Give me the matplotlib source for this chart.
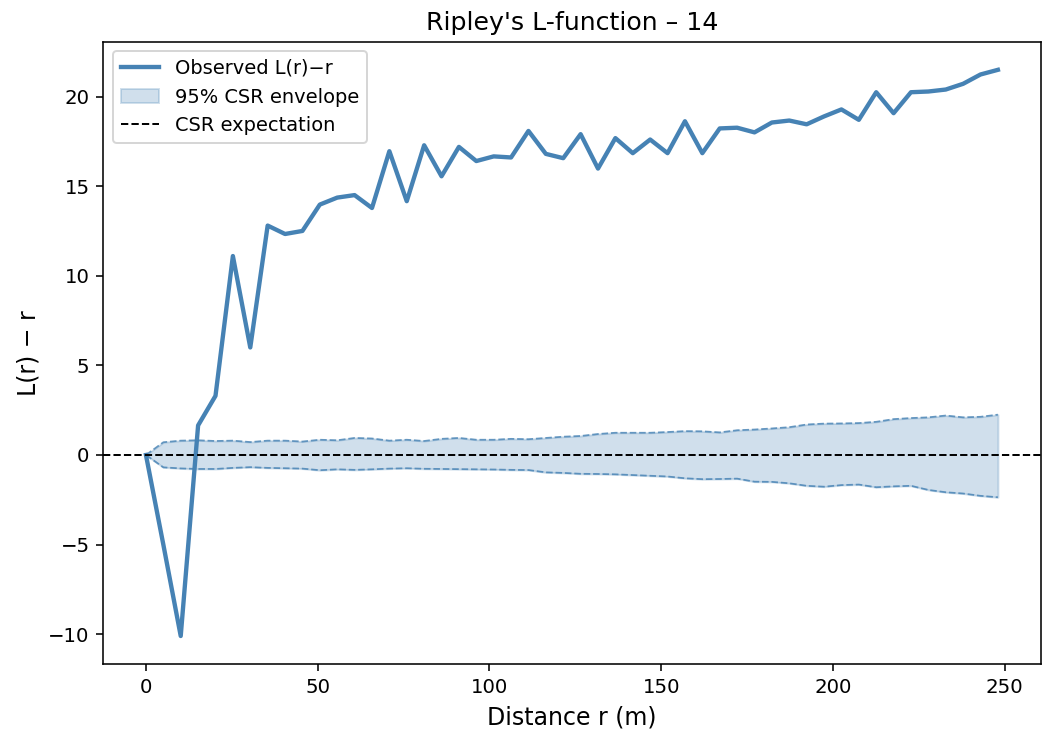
import numpy as np
import matplotlib
matplotlib.use("Agg")
import matplotlib.pyplot as plt

# Distance bins (m)
r = np.linspace(0, 248, 50)

# Observed L(r) - r
observed = [
    0.0, -5.0, -10.1, 1.65, 3.3, 11.1, 6.0, 12.8, 12.33, 12.5,
    13.97, 14.36, 14.5, 13.78, 16.95, 14.16, 17.28, 15.55, 17.19, 16.4,
    16.66, 16.6, 18.08, 16.8, 16.56, 17.9, 15.98, 17.68, 16.84, 17.6,
    16.84, 18.62, 16.84, 18.22, 18.26, 18.0, 18.55, 18.66, 18.45, 18.89,
    19.28, 18.7, 20.24, 19.07, 20.24, 20.28, 20.39, 20.71, 21.23, 21.49,
]

# 95% CSR simulation envelope
env_upper = [
    0.0, 0.71, 0.8, 0.82, 0.78, 0.8, 0.72, 0.8, 0.8, 0.75,
    0.85, 0.82, 0.95, 0.92, 0.8, 0.85, 0.78, 0.9, 0.95, 0.85,
    0.85, 0.9, 0.88, 0.95, 1.02, 1.06, 1.17, 1.24, 1.24, 1.24,
    1.28, 1.33, 1.32, 1.26, 1.38, 1.42, 1.48, 1.55, 1.7, 1.75,
    1.76, 1.78, 1.85, 2.0, 2.06, 2.1, 2.2, 2.1, 2.13, 2.25,
]
env_lower = [
    0.0, -0.69, -0.75, -0.78, -0.78, -0.72, -0.68, -0.72, -0.74, -0.76,
    -0.85, -0.8, -0.83, -0.8, -0.76, -0.74, -0.77, -0.78, -0.79, -0.8,
    -0.81, -0.83, -0.84, -0.97, -1.0, -1.05, -1.06, -1.08, -1.12, -1.16,
    -1.2, -1.3, -1.35, -1.34, -1.32, -1.49, -1.5, -1.58, -1.72, -1.77,
    -1.68, -1.65, -1.8, -1.75, -1.72, -1.95, -2.08, -2.15, -2.28, -2.36,
]

fig = plt.figure(figsize=(1045 / 142, 736 / 142), dpi=142)
ax = fig.add_axes([0.0989, 0.0974, 0.8968, 0.8462])

ax.plot(r, observed, color="steelblue", lw=2.2, label="Observed L(r)\u2212r")
ax.fill_between(r, env_lower, env_upper, color="steelblue", alpha=0.25,
                label="95% CSR envelope")
ax.plot(r, env_upper, color="steelblue", ls="--", lw=0.9, alpha=0.8)
ax.plot(r, env_lower, color="steelblue", ls="--", lw=0.9, alpha=0.8)
ax.axhline(0, color="black", ls="--", lw=1, label="CSR expectation")

ax.set_title("Ripley's L-function \u2013 14", fontsize=12.8)
ax.set_xlabel("Distance r (m)", fontsize=12)
ax.set_ylabel("L(r) \u2212 r", fontsize=12)
ax.legend(loc="upper left", fontsize=9.8)

fig.savefig("out.png", dpi=142)
